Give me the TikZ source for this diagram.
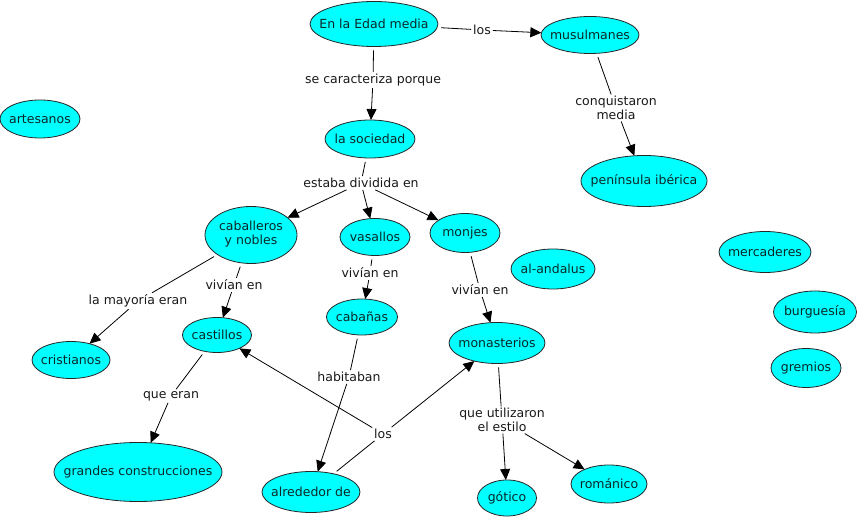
\documentclass[tikz,border=0pt]{standalone}
\usepackage{fontspec}
\setmainfont{DejaVu Sans}
\usetikzlibrary{shapes.geometric,arrows.meta}
\definecolor{cfill}{RGB}{0,255,255}
\definecolor{ctext}{RGB}{10,40,40}
\newcommand{\ctxt}[1]{\makebox[0pt][c]{#1}}
\newcommand{\ctwo}[2]{\makebox[0pt][c]{\begin{tabular}{@{}c@{}}#1\\#2\end{tabular}}}
\begin{document}
\begin{tikzpicture}[x=1pt,y=-1pt,
  font=\fontsize{12.5}{13.5}\selectfont,
  concept/.style={ellipse,draw=black!85,fill=cfill,line width=0.8pt,text=ctext,inner sep=0pt,outer sep=0pt},
  linklbl/.style={fill=white,inner sep=2pt,outer sep=0pt,align=center,text=black!90},
  ln/.style={draw=black,line width=0.8pt},
  fromc/.style={ln,shorten <=4pt},
  arr/.style={ln,-{Triangle[length=11pt,width=10pt]}}]
\useasboundingbox (0,0) rectangle (857,518);
% concepts
\node[concept,minimum width=128,minimum height=45] (edad) at (374,24) {\ctxt{En la Edad media}};
\node[concept,minimum width=98,minimum height=37] (musul) at (590,35) {\ctxt{musulmanes}};
\node[concept,minimum width=80,minimum height=38] (artes) at (40,119) {\ctxt{artesanos}};
\node[concept,minimum width=90,minimum height=38] (soc) at (370,139) {\ctxt{la sociedad}};
\node[concept,minimum width=126,minimum height=51] (pen) at (644,181) {\ctxt{península ibérica}};
\node[concept,minimum width=92,minimum height=57] (cab) at (251,235) {\ctwo{caballeros}{y nobles}};
\node[concept,minimum width=70,minimum height=37] (vas) at (375,237) {\ctxt{vasallos}};
\node[concept,minimum width=70,minimum height=39] (monj) at (465,233) {\ctxt{monjes}};
\node[concept,minimum width=84,minimum height=40] (anda) at (553,269) {\ctxt{al-andalus}};
\node[concept,minimum width=92,minimum height=41] (merc) at (765,252) {\ctxt{mercaderes}};
\node[concept,minimum width=83,minimum height=42] (burg) at (815,312) {\ctxt{burguesía}};
\node[concept,minimum width=70,minimum height=39] (grem) at (806,368) {\ctxt{gremios}};
\node[concept,minimum width=69,minimum height=35] (cast) at (217,335) {\ctxt{castillos}};
\node[concept,minimum width=78,minimum height=37] (crist) at (71,360) {\ctxt{cristianos}};
\node[concept,minimum width=168,minimum height=59] (grand) at (138,472) {\ctxt{grandes construcciones}};
\node[concept,minimum width=71,minimum height=36] (cabn) at (362,317) {\ctxt{cabañas}};
\node[concept,minimum width=96,minimum height=41] (monas) at (497,343) {\ctxt{monasterios}};
\node[concept,minimum width=98,minimum height=41] (alred) at (311,492) {\ctxt{alrededor de}};
\node[concept,minimum width=59,minimum height=36] (got) at (507,498) {\ctxt{gótico}};
\node[concept,minimum width=76,minimum height=38] (rom) at (609,484) {\ctxt{románico}};
% link labels
\node[linklbl] (l1) at (482,30) {los};
\node[linklbl] (l2) at (373,80) {se caracteriza porque};
\node[linklbl] (l3) at (616,108) {conquistaron\\media};
\node[linklbl] (l4) at (361,183) {estaba dividida en};
\node[linklbl] (l5) at (138,301) {la mayoría eran};
\node[linklbl] (l6) at (234,285) {vivían en};
\node[linklbl] (l7) at (370,273) {vivían en};
\node[linklbl] (l8) at (480,290) {vivían en};
\node[linklbl] (l9) at (171,396) {que eran};
\node[linklbl] (l10) at (349,377) {habitaban};
\node[linklbl] (l11) at (383,434) {los};
\node[linklbl] (l12) at (502,420) {que utilizaron\\el estilo};
% connectors
\draw[fromc] (edad) -- (l1);
\draw[arr] (l1) -- (musul);
\draw[fromc] (edad) -- (l2);
\draw[arr] (l2) -- (soc);
\draw[fromc] (musul) -- (l3);
\draw[arr] (l3) -- (pen);
\draw[fromc] (soc) -- (l4);
\draw[arr] (l4) -- (cab);
\draw[arr] (l4) -- (vas);
\draw[arr] (l4) -- (monj);
\draw[fromc] (cab) -- (l5);
\draw[arr] (l5) -- (crist);
\draw[fromc] (cab) -- (l6);
\draw[arr] (l6) -- (cast);
\draw[fromc] (vas) -- (l7);
\draw[arr] (l7) -- (cabn);
\draw[fromc] (monj) -- (l8);
\draw[arr] (l8) -- (monas);
\draw[fromc] (cast) -- (l9);
\draw[arr] (l9) -- (grand);
\draw[fromc] (cabn) -- (l10);
\draw[arr] (l10) -- (alred);
\draw[fromc] (alred) -- (l11);
\draw[arr] (l11) -- (cast);
\draw[arr] (l11) -- (monas);
\draw[fromc] (monas) -- (l12);
\draw[arr] (l12) -- (got);
\draw[arr] (l12) -- (rom);
\end{tikzpicture}
\end{document}
